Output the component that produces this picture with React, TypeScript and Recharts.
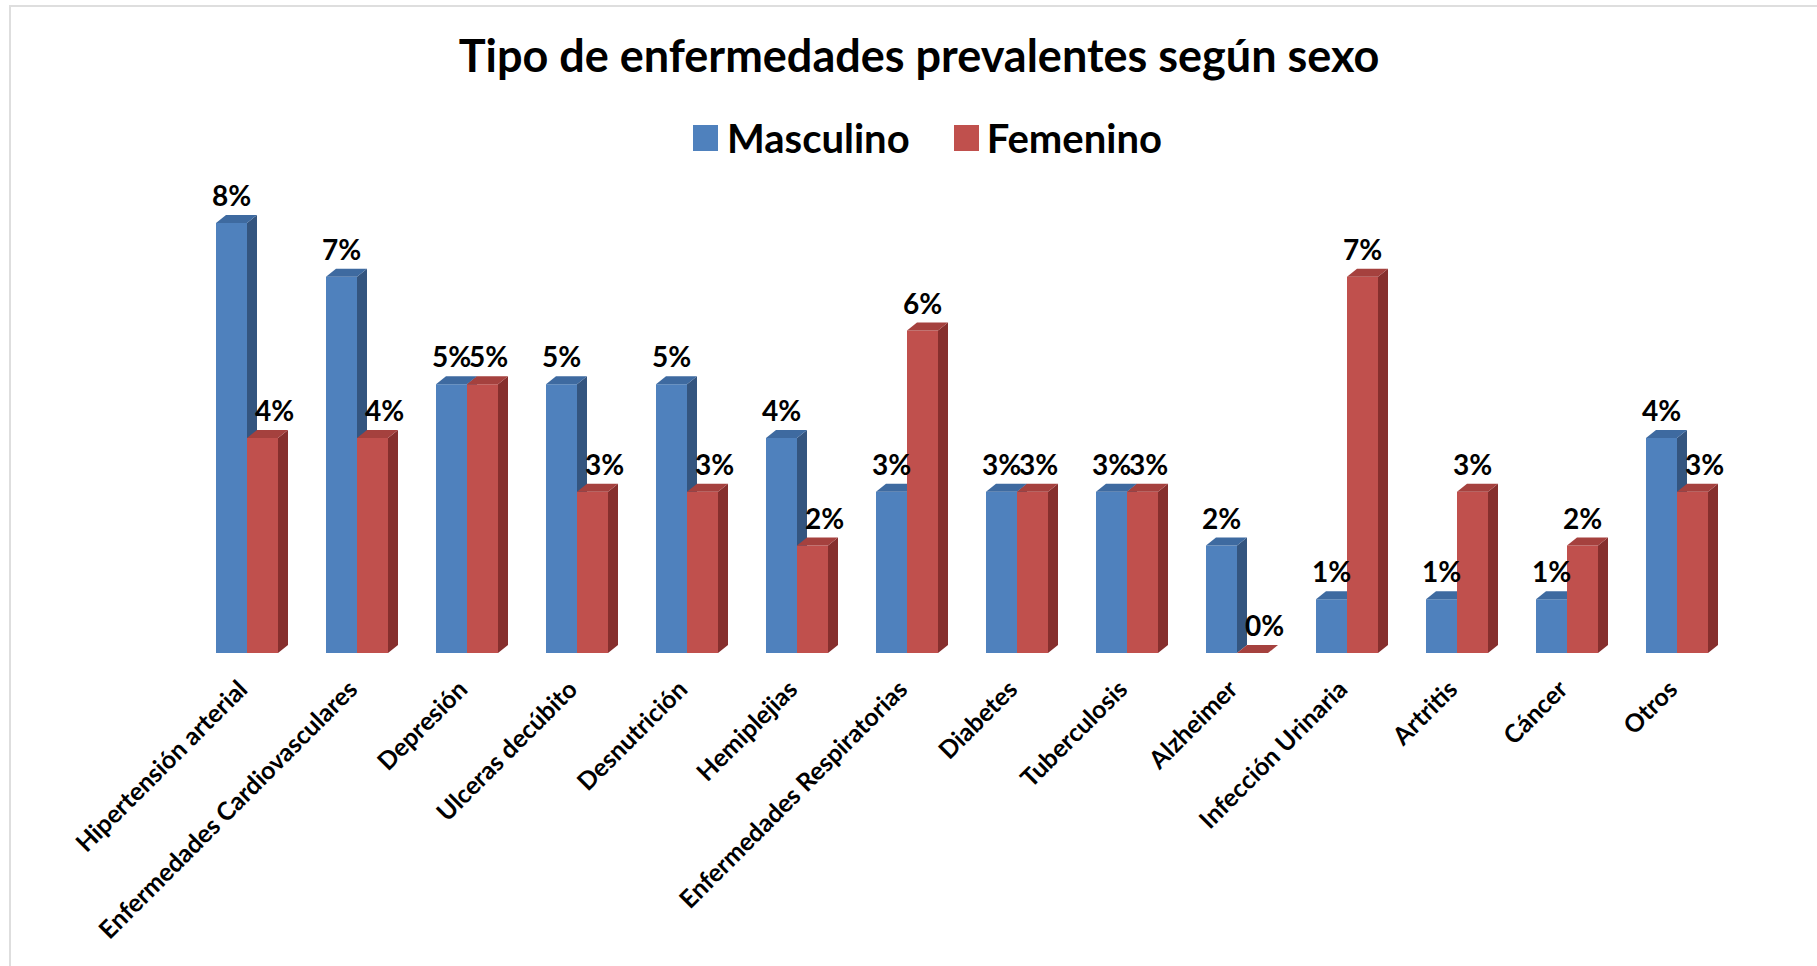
import { Bar, BarChart, LabelList, XAxis, YAxis } from "recharts";

const categories = [
  "Hipertensión arterial",
  "Enfermedades Cardiovasculares",
  "Depresión",
  "Ulceras decúbito",
  "Desnutrición",
  "Hemiplejias",
  "Enfermedades Respiratorias",
  "Diabetes",
  "Tuberculosis",
  "Alzheimer",
  "Infección Urinaria",
  "Artritis",
  "Cáncer",
  "Otros",
];
const masculino = [8, 7, 5, 5, 5, 4, 3, 3, 3, 2, 1, 1, 1, 4];
const femenino = [4, 4, 5, 3, 3, 2, 6, 3, 3, 0, 7, 3, 2, 3];

const data = categories.map((name, i) => ({ name, masculino: masculino[i], femenino: femenino[i] }));

const FONT = "Lato, 'Noto Sans', sans-serif";
const DX = 10;
const DY = 8;

const palette = {
  masculino: { front: "#4F81BD", side: "#34557F", top: "#3E6AA0" },
  femenino: { front: "#C0504D", side: "#862F2D", top: "#A5413E" },
};

function bar3d(colors: { front: string; side: string; top: string }) {
  return (props: any) => {
    const { x, y, width: w, height: h } = props;
    return (
      <g>
        <rect x={x} y={y} width={w} height={h} fill={colors.front} />
        <polygon
          points={`${x + w},${y} ${x + w + DX},${y - DY} ${x + w + DX},${y + h - DY} ${x + w},${y + h}`}
          fill={colors.side}
        />
        <polygon
          points={`${x},${y} ${x + DX},${y - DY} ${x + w + DX},${y - DY} ${x + w},${y}`}
          fill={colors.top}
        />
      </g>
    );
  };
}

// red labels get nudged right when the blue bar next to them is as tall or taller
function ValueLabel(props: any) {
  const { x, y, width, value, index, series } = props;
  let shift = 0;
  if (series === "femenino") {
    const m = masculino[index];
    const f = femenino[index];
    if (m > f) shift = 12;
    else if (m === f) shift = 6;
  }
  return (
    <text x={x + width / 2 + shift} y={y - 17} textAnchor="middle" fontFamily={FONT} fontWeight={700} fontSize={28} fill="#000">
      {`${value}%`}
    </text>
  );
}

function CategoryTick(props: any) {
  const { x, y, payload } = props;
  const ax = x + 2;
  const ay = y + 30;
  return (
    <text
      x={ax}
      y={ay}
      textAnchor="end"
      transform={`rotate(-45, ${ax}, ${ay})`}
      fontFamily={FONT}
      fontWeight={700}
      fontSize={25}
      fill="#000"
    >
      {payload.value}
    </text>
  );
}

export default function App() {
  return (
    <div style={{ position: "absolute", left: 0, top: 0, width: 1817, height: 966, overflow: "hidden", background: "#fff" }}>
      <div
        style={{
          position: "absolute",
          left: 9,
          top: 5,
          width: 1900,
          height: 1000,
          border: "2px solid #dedede",
          boxSizing: "border-box",
        }}
      />
      <div
        style={{
          position: "absolute",
          left: 0,
          top: 28,
          width: 1838,
          textAlign: "center",
          fontFamily: FONT,
          fontWeight: 700,
          fontSize: 45,
          lineHeight: "54px",
          color: "#000",
        }}
      >
        Tipo de enfermedades prevalentes según sexo
      </div>
      <div
        style={{
          position: "absolute",
          left: 693,
          top: 115,
          display: "flex",
          alignItems: "center",
          fontFamily: FONT,
          fontWeight: 700,
          fontSize: 40,
          lineHeight: "46px",
          color: "#000",
        }}
      >
        <span style={{ width: 25, height: 26, background: palette.masculino.front, display: "inline-block" }} />
        <span style={{ marginLeft: 9 }}>Masculino</span>
        <span style={{ width: 25, height: 26, background: palette.femenino.front, display: "inline-block", marginLeft: 44 }} />
        <span style={{ marginLeft: 8 }}>Femenino</span>
      </div>
      <div style={{ position: "absolute", left: 0, top: 0 }}>
        <BarChart
          width={1817}
          height={966}
          data={data}
          margin={{ top: 169.25, right: 85, left: 192, bottom: 0 }}
          barSize={31}
          barGap={0}
        >
          <XAxis
            dataKey="name"
            axisLine={false}
            tickLine={false}
            interval={0}
            height={313}
            tick={<CategoryTick />}
          />
          <YAxis hide domain={[0, 9]} />
          <Bar dataKey="masculino" isAnimationActive={false} shape={bar3d(palette.masculino)}>
            <LabelList dataKey="masculino" content={<ValueLabel series="masculino" />} />
          </Bar>
          <Bar dataKey="femenino" isAnimationActive={false} shape={bar3d(palette.femenino)}>
            <LabelList dataKey="femenino" content={<ValueLabel series="femenino" />} />
          </Bar>
        </BarChart>
      </div>
    </div>
  );
}
